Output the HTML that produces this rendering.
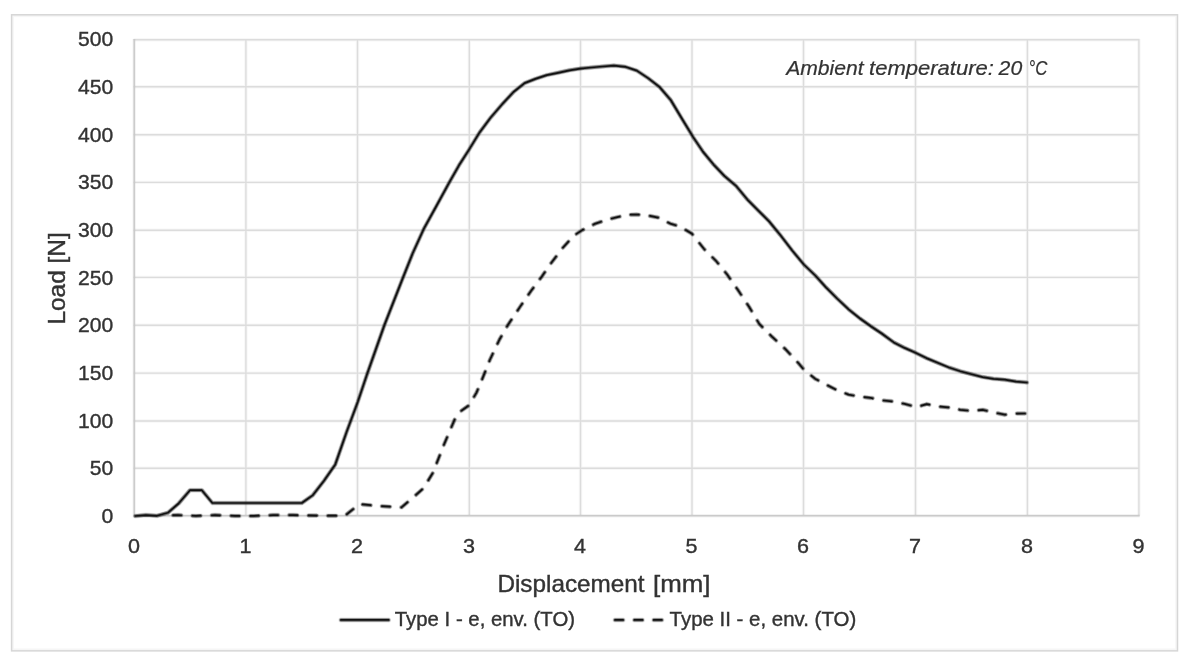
<!DOCTYPE html>
<html lang="en"><head><meta charset="utf-8"><title>Load-displacement chart</title>
<style>html,body{margin:0;padding:0;background:#fff}body{width:1191px;height:663px;overflow:hidden}svg{display:block}text{font-family:"Liberation Sans",sans-serif;fill:#333}.t{font-size:20.8px}.l{font-size:20.2px}.a{font-size:23.2px}.i{font-size:20.6px;font-style:italic}text{stroke:#333;stroke-width:.38px}.i{stroke-width:.22px}</style></head><body>
<svg width="1191" height="663" viewBox="0 0 1191 663">
<rect x="0" y="0" width="1191" height="663" fill="#fff"/>
<rect x="12.9" y="16.1" width="1163.3" height="633.4" fill="none" stroke="#d6d6d6" stroke-width="2" stroke-opacity=".22"/>
<rect x="11.6" y="14.8" width="1165.9" height="636.05" fill="none" stroke="#d6d6d6" stroke-width="1.5"/>
<path d="M133.6 468.30H1139.6M133.6 421.00H1139.6M133.6 373.10H1139.6M133.6 325.30H1139.6M133.6 277.40H1139.6M133.6 230.20H1139.6M133.6 182.40H1139.6M133.6 134.80H1139.6M133.6 86.70H1139.6M133.6 39.70H1139.6M245.90 39.0V515.8M357.50 39.0V515.8M469.30 39.0V515.8M580.50 39.0V515.8M692.00 39.0V515.8M803.50 39.0V515.8M915.50 39.0V515.8M1027.40 39.0V515.8M1138.90 39.0V515.8" fill="none" stroke="#d9d9d9" stroke-width="3.4" stroke-opacity=".2"/>
<path d="M133.6 468.30H1139.6M133.6 421.00H1139.6M133.6 373.10H1139.6M133.6 325.30H1139.6M133.6 277.40H1139.6M133.6 230.20H1139.6M133.6 182.40H1139.6M133.6 134.80H1139.6M133.6 86.70H1139.6M133.6 39.70H1139.6M245.90 39.0V515.8M357.50 39.0V515.8M469.30 39.0V515.8M580.50 39.0V515.8M692.00 39.0V515.8M803.50 39.0V515.8M915.50 39.0V515.8M1027.40 39.0V515.8M1138.90 39.0V515.8" fill="none" stroke="#dcdcdc" stroke-width="1.4"/>
<path d="M134.2 39.0V515.8H1139.6" fill="none" stroke="#c0c0c0" stroke-width="3.4" stroke-opacity=".2"/>
<path d="M134.2 39.0V515.8H1139.6" fill="none" stroke="#cacaca" stroke-width="1.5"/>
<text class="t" x="101.5" y="522.9" textLength="11.8" lengthAdjust="spacingAndGlyphs">0</text>
<text class="t" x="89.8" y="475.2" textLength="23.5" lengthAdjust="spacingAndGlyphs">50</text>
<text class="t" x="78.0" y="427.6" textLength="35.2" lengthAdjust="spacingAndGlyphs">100</text>
<text class="t" x="78.0" y="379.9" textLength="35.2" lengthAdjust="spacingAndGlyphs">150</text>
<text class="t" x="78.0" y="332.3" textLength="35.2" lengthAdjust="spacingAndGlyphs">200</text>
<text class="t" x="78.0" y="284.6" textLength="35.2" lengthAdjust="spacingAndGlyphs">250</text>
<text class="t" x="78.0" y="236.9" textLength="35.2" lengthAdjust="spacingAndGlyphs">300</text>
<text class="t" x="78.0" y="189.3" textLength="35.2" lengthAdjust="spacingAndGlyphs">350</text>
<text class="t" x="78.0" y="141.6" textLength="35.2" lengthAdjust="spacingAndGlyphs">400</text>
<text class="t" x="78.0" y="94.0" textLength="35.2" lengthAdjust="spacingAndGlyphs">450</text>
<text class="t" x="78.0" y="46.3" textLength="35.2" lengthAdjust="spacingAndGlyphs">500</text>
<text class="t" x="127.9" y="553" textLength="12" lengthAdjust="spacingAndGlyphs">0</text>
<text class="t" x="239.5" y="553" textLength="12" lengthAdjust="spacingAndGlyphs">1</text>
<text class="t" x="351.1" y="553" textLength="12" lengthAdjust="spacingAndGlyphs">2</text>
<text class="t" x="462.9" y="553" textLength="12" lengthAdjust="spacingAndGlyphs">3</text>
<text class="t" x="574.1" y="553" textLength="12" lengthAdjust="spacingAndGlyphs">4</text>
<text class="t" x="685.6" y="553" textLength="12" lengthAdjust="spacingAndGlyphs">5</text>
<text class="t" x="797.1" y="553" textLength="12" lengthAdjust="spacingAndGlyphs">6</text>
<text class="t" x="909.1" y="553" textLength="12" lengthAdjust="spacingAndGlyphs">7</text>
<text class="t" x="1021.0" y="553" textLength="12" lengthAdjust="spacingAndGlyphs">8</text>
<text class="t" x="1132.5" y="553" textLength="12" lengthAdjust="spacingAndGlyphs">9</text>
<text class="a" x="497.4" y="592" textLength="147.2" lengthAdjust="spacingAndGlyphs">Displacement</text>
<text class="a" x="653.0" y="592" textLength="57.5" lengthAdjust="spacingAndGlyphs">[mm]</text>
<text class="a" style="font-size:24.1px" transform="translate(64.9 324.6) rotate(-90)" textLength="92.4" lengthAdjust="spacingAndGlyphs">Load [N]</text>
<text class="i" x="786.2" y="75.1" textLength="77.5" lengthAdjust="spacingAndGlyphs">Ambient</text>
<text class="i" x="869.0" y="75.1" textLength="125" lengthAdjust="spacingAndGlyphs">temperature:</text>
<text class="i" x="998.6" y="75.1" textLength="23.6" lengthAdjust="spacingAndGlyphs">20</text>
<text class="i" x="1028.6" y="75.1" textLength="18.8" lengthAdjust="spacingAndGlyphs">°C</text>
<g fill="none" stroke="#111" stroke-linejoin="round" stroke-linecap="round">
<polyline points="135.3,516.0 145.9,515.1 157.0,515.8 167.8,512.8 178.6,503.5 190.0,490.2 201.8,490.2 212.4,503.0 301.8,503.0 312.6,495.4 324.0,480.7 335.3,464.4 346.5,432.2 357.9,401.5 367.3,373.6 384.3,325.4 402.4,279.1 412.6,253.5 423.9,228.6 436.4,206.0 450.0,181.1 459.0,165.3 469.2,149.4 479.6,132.4 490.9,117.3 502.2,104.2 513.5,92.0 524.6,83.1 535.4,78.9 546.7,75.1 558.0,72.8 569.4,70.3 580.4,68.6 591.2,67.5 602.5,66.5 613.8,65.6 625.4,66.8 636.8,70.6 648.1,78.1 659.4,86.9 670.7,100.0 682.0,118.8 693.0,136.9 702.9,151.6 713.8,164.8 724.6,176.2 736.0,185.8 747.6,199.8 758.4,210.7 769.3,221.6 780.1,234.8 792.2,250.5 803.8,264.5 815.3,275.5 826.2,287.6 837.1,298.5 848.6,309.3 860.0,318.5 870.8,326.2 881.7,333.5 893.8,342.4 904.6,347.9 915.5,352.7 926.4,358.1 937.7,362.8 949.0,367.5 960.3,371.2 971.6,374.2 982.7,377.1 993.5,378.8 1004.8,379.7 1016.1,381.6 1026.9,382.5" stroke-width="5.0" stroke-opacity="0.12"/>
<polyline points="135.3,516.0 145.9,515.1 157.0,515.8 167.8,512.8 178.6,503.5 190.0,490.2 201.8,490.2 212.4,503.0 301.8,503.0 312.6,495.4 324.0,480.7 335.3,464.4 346.5,432.2 357.9,401.5 367.3,373.6 384.3,325.4 402.4,279.1 412.6,253.5 423.9,228.6 436.4,206.0 450.0,181.1 459.0,165.3 469.2,149.4 479.6,132.4 490.9,117.3 502.2,104.2 513.5,92.0 524.6,83.1 535.4,78.9 546.7,75.1 558.0,72.8 569.4,70.3 580.4,68.6 591.2,67.5 602.5,66.5 613.8,65.6 625.4,66.8 636.8,70.6 648.1,78.1 659.4,86.9 670.7,100.0 682.0,118.8 693.0,136.9 702.9,151.6 713.8,164.8 724.6,176.2 736.0,185.8 747.6,199.8 758.4,210.7 769.3,221.6 780.1,234.8 792.2,250.5 803.8,264.5 815.3,275.5 826.2,287.6 837.1,298.5 848.6,309.3 860.0,318.5 870.8,326.2 881.7,333.5 893.8,342.4 904.6,347.9 915.5,352.7 926.4,358.1 937.7,362.8 949.0,367.5 960.3,371.2 971.6,374.2 982.7,377.1 993.5,378.8 1004.8,379.7 1016.1,381.6 1026.9,382.5" stroke-width="3.5" stroke-opacity="0.5"/>
<polyline points="135.3,516.0 145.9,515.1 157.0,515.8 167.8,512.8 178.6,503.5 190.0,490.2 201.8,490.2 212.4,503.0 301.8,503.0 312.6,495.4 324.0,480.7 335.3,464.4 346.5,432.2 357.9,401.5 367.3,373.6 384.3,325.4 402.4,279.1 412.6,253.5 423.9,228.6 436.4,206.0 450.0,181.1 459.0,165.3 469.2,149.4 479.6,132.4 490.9,117.3 502.2,104.2 513.5,92.0 524.6,83.1 535.4,78.9 546.7,75.1 558.0,72.8 569.4,70.3 580.4,68.6 591.2,67.5 602.5,66.5 613.8,65.6 625.4,66.8 636.8,70.6 648.1,78.1 659.4,86.9 670.7,100.0 682.0,118.8 693.0,136.9 702.9,151.6 713.8,164.8 724.6,176.2 736.0,185.8 747.6,199.8 758.4,210.7 769.3,221.6 780.1,234.8 792.2,250.5 803.8,264.5 815.3,275.5 826.2,287.6 837.1,298.5 848.6,309.3 860.0,318.5 870.8,326.2 881.7,333.5 893.8,342.4 904.6,347.9 915.5,352.7 926.4,358.1 937.7,362.8 949.0,367.5 960.3,371.2 971.6,374.2 982.7,377.1 993.5,378.8 1004.8,379.7 1016.1,381.6 1026.9,382.5" stroke-width="1.7" stroke-opacity="1"/>
<polyline points="173.1,515.2 178.0,515.1 196.0,515.9 215.0,515.1 235.0,515.9 254.0,515.9 273.0,515.1 293.0,515.1 320.0,515.6 345.0,515.7 359.3,504.1 379.8,506.1 401.5,507.3 412.4,498.1 423.3,488.4 432.9,472.8 443.8,445.0 454.6,419.7 460.0,411.7 469.2,405.2 476.5,392.6 482.6,378.1 489.8,360.0 499.5,339.5 507.9,325.0 520.0,306.9 530.8,291.2 541.7,276.7 550.9,263.4 562.9,247.7 573.8,235.7 582.2,230.1 595.5,223.6 607.6,219.5 618.4,216.9 629.3,214.7 636.5,214.5 647.4,215.4 658.2,217.6 670.3,223.6 679.9,226.5 692.0,233.8 704.1,249.0 716.1,261.0 727.0,274.3 737.8,289.8 749.2,307.0 759.4,324.1 772.2,336.9 785.9,349.6 798.6,363.3 803.5,369.2 815.0,378.7 826.2,384.7 837.0,390.2 848.6,394.6 860.0,396.7 870.8,397.9 881.7,400.3 893.8,401.5 904.6,403.9 916.7,407.1 926.8,404.1 937.7,406.4 948.3,407.4 960.3,409.8 971.6,410.9 982.7,409.8 993.5,412.4 1004.8,414.7 1016.1,413.6 1026.0,413.5" stroke-width="5.0" stroke-opacity="0.12" stroke-dasharray="8.1 11.27" stroke-dashoffset="0"/>
<polyline points="173.1,515.2 178.0,515.1 196.0,515.9 215.0,515.1 235.0,515.9 254.0,515.9 273.0,515.1 293.0,515.1 320.0,515.6 345.0,515.7 359.3,504.1 379.8,506.1 401.5,507.3 412.4,498.1 423.3,488.4 432.9,472.8 443.8,445.0 454.6,419.7 460.0,411.7 469.2,405.2 476.5,392.6 482.6,378.1 489.8,360.0 499.5,339.5 507.9,325.0 520.0,306.9 530.8,291.2 541.7,276.7 550.9,263.4 562.9,247.7 573.8,235.7 582.2,230.1 595.5,223.6 607.6,219.5 618.4,216.9 629.3,214.7 636.5,214.5 647.4,215.4 658.2,217.6 670.3,223.6 679.9,226.5 692.0,233.8 704.1,249.0 716.1,261.0 727.0,274.3 737.8,289.8 749.2,307.0 759.4,324.1 772.2,336.9 785.9,349.6 798.6,363.3 803.5,369.2 815.0,378.7 826.2,384.7 837.0,390.2 848.6,394.6 860.0,396.7 870.8,397.9 881.7,400.3 893.8,401.5 904.6,403.9 916.7,407.1 926.8,404.1 937.7,406.4 948.3,407.4 960.3,409.8 971.6,410.9 982.7,409.8 993.5,412.4 1004.8,414.7 1016.1,413.6 1026.0,413.5" stroke-width="3.5" stroke-opacity="0.5" stroke-dasharray="8.1 11.27" stroke-dashoffset="0"/>
<polyline points="173.1,515.2 178.0,515.1 196.0,515.9 215.0,515.1 235.0,515.9 254.0,515.9 273.0,515.1 293.0,515.1 320.0,515.6 345.0,515.7 359.3,504.1 379.8,506.1 401.5,507.3 412.4,498.1 423.3,488.4 432.9,472.8 443.8,445.0 454.6,419.7 460.0,411.7 469.2,405.2 476.5,392.6 482.6,378.1 489.8,360.0 499.5,339.5 507.9,325.0 520.0,306.9 530.8,291.2 541.7,276.7 550.9,263.4 562.9,247.7 573.8,235.7 582.2,230.1 595.5,223.6 607.6,219.5 618.4,216.9 629.3,214.7 636.5,214.5 647.4,215.4 658.2,217.6 670.3,223.6 679.9,226.5 692.0,233.8 704.1,249.0 716.1,261.0 727.0,274.3 737.8,289.8 749.2,307.0 759.4,324.1 772.2,336.9 785.9,349.6 798.6,363.3 803.5,369.2 815.0,378.7 826.2,384.7 837.0,390.2 848.6,394.6 860.0,396.7 870.8,397.9 881.7,400.3 893.8,401.5 904.6,403.9 916.7,407.1 926.8,404.1 937.7,406.4 948.3,407.4 960.3,409.8 971.6,410.9 982.7,409.8 993.5,412.4 1004.8,414.7 1016.1,413.6 1026.0,413.5" stroke-width="1.7" stroke-opacity="1" stroke-dasharray="8.1 11.27" stroke-dashoffset="0"/>
<path d="M340.9 619.9H388.6" stroke-width="5.0" stroke-opacity="0.12"/>
<path d="M340.9 619.9H388.6" stroke-width="3.5" stroke-opacity="0.5"/>
<path d="M340.9 619.9H388.6" stroke-width="1.7" stroke-opacity="1"/>
<path d="M615.0 619.9H663" stroke-width="5.0" stroke-opacity="0.12" stroke-dasharray="8.1 11.27"/>
<path d="M615.0 619.9H663" stroke-width="3.5" stroke-opacity="0.5" stroke-dasharray="8.1 11.27"/>
<path d="M615.0 619.9H663" stroke-width="1.7" stroke-opacity="1" stroke-dasharray="8.1 11.27"/>
</g>
<text class="l" x="394.8" y="626.4" textLength="180.2" lengthAdjust="spacingAndGlyphs">Type I - e, env. (TO)</text>
<text class="l" x="669.6" y="626.4" textLength="186.6" lengthAdjust="spacingAndGlyphs">Type II - e, env. (TO)</text>
</svg></body></html>
